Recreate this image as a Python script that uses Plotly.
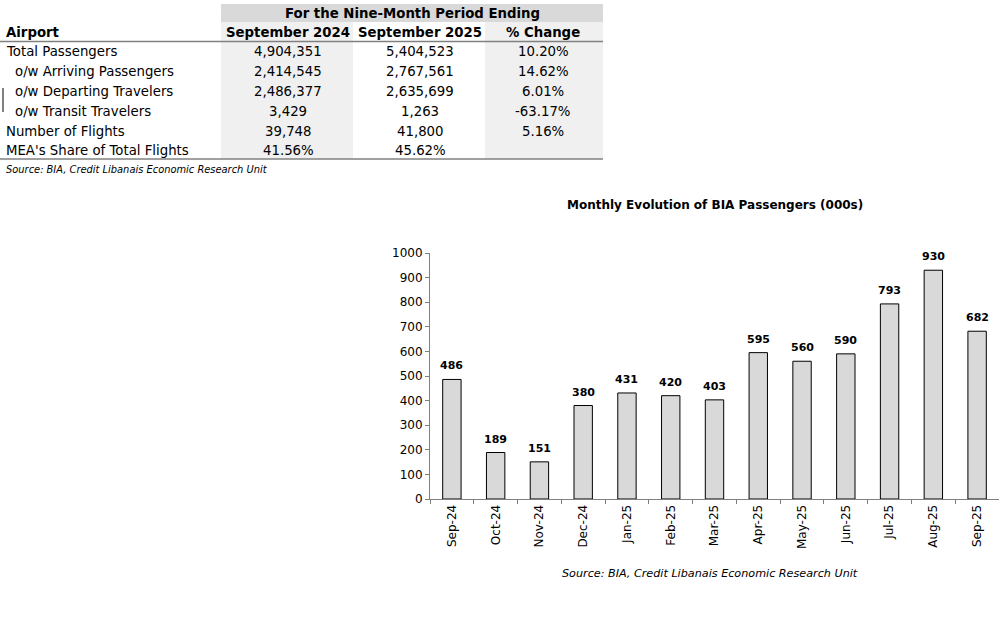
import plotly.graph_objects as go

# ---- Data ----
months = ["Sep-24", "Oct-24", "Nov-24", "Dec-24", "Jan-25", "Feb-25", "Mar-25",
          "Apr-25", "May-25", "Jun-25", "Jul-25", "Aug-25", "Sep-25"]
passengers = [486, 189, 151, 380, 431, 420, 403, 595, 560, 590, 793, 930, 682]

row_labels = ["Total Passengers", "  o/w Arriving Passengers", "  o/w Departing Travelers",
              "  o/w Transit Travelers", "Number of Flights", "MEA's Share of Total Flights"]
col_2024 = ["4,904,351", "2,414,545", "2,486,377", "3,429", "39,748", "41.56%"]
col_2025 = ["5,404,523", "2,767,561", "2,635,699", "1,263", "41,800", "45.62%"]
col_change = ["10.20%", "14.62%", "6.01%", "-63.17%", "5.16%", ""]
header_top = "For the Nine-Month Period Ending"
header_cols = ["Airport", "September 2024", "September 2025", "% Change"]
source_text = "Source: BIA, Credit Libanais Economic Research Unit"
chart_title = "Monthly Evolution of BIA Passengers (000s)"

W, H = 999, 625
L, R, T, B = 430, 0, 253, 126
PW = W - L - R
PH = H - T - B

def px(x):
    return (x - L) / PW

def py(y):
    return (H - B - y) / PH

FONT = "DejaVu Sans"

fig = go.Figure()
fig.add_trace(go.Bar(
    x=months, y=passengers,
    marker=dict(color="#d9d9d9", line=dict(color="#000000", width=1)),
    width=0.42, hoverinfo="skip"
))

shapes = []
annotations = []

# ---- Table backgrounds ----
shapes.append(dict(type="rect", xref="paper", yref="paper", x0=px(221), x1=px(603), y0=py(22), y1=py(4),
                   fillcolor="#d9d9d9", line=dict(width=0), layer="below"))
shapes.append(dict(type="rect", xref="paper", yref="paper", x0=px(221), x1=px(353), y0=py(159), y1=py(22),
                   fillcolor="#f0f0f0", line=dict(width=0), layer="below"))
shapes.append(dict(type="rect", xref="paper", yref="paper", x0=px(485), x1=px(603), y0=py(159), y1=py(22),
                   fillcolor="#f0f0f0", line=dict(width=0), layer="below"))
for yl in (41.5, 159):
    shapes.append(dict(type="line", xref="paper", yref="paper", x0=px(0), x1=px(603), y0=py(yl), y1=py(yl),
                       line=dict(color="#808080", width=1.5)))
# small vertical mark at the left
shapes.append(dict(type="line", xref="paper", yref="paper", x0=px(3), x1=px(3), y0=py(88), y1=py(112),
                   line=dict(color="#000000", width=1)))

def txt(x, y, s, xanchor="center", size=13.3, bold=False, italic=False, color="#000000"):
    annotations.append(dict(
        xref="paper", yref="paper", x=px(x), y=py(y), text=(f"<b>{s}</b>" if bold else s),
        showarrow=False, xanchor=xanchor, yanchor="middle",
        font=dict(family=FONT, size=size, color=color, style="italic" if italic else "normal")))

txt(412, 13, header_top, bold=True)
txt(4, 32, header_cols[0], xanchor="left", bold=True)
txt(288, 32, header_cols[1], bold=True)
txt(420, 32, header_cols[2], bold=True)
txt(543, 32, header_cols[3], bold=True)

row_y = [52, 71.5, 91.5, 111, 131, 150.5]
for i, yy in enumerate(row_y):
    lab = row_labels[i]
    indent = 13 if lab.startswith("  ") else 4
    txt(indent, yy, lab.strip(), xanchor="left")
    txt(288, yy, col_2024[i])
    txt(420, yy, col_2025[i])
    if col_change[i]:
        txt(543, yy, col_change[i])

txt(4, 169, source_text, xanchor="left", size=9.9, italic=True)

# ---- Chart text ----
txt(715, 205, chart_title, bold=True, size=12)
txt(710, 573, source_text, size=11.2, italic=True)

# Bar value labels
for m, v in zip(months, passengers):
    annotations.append(dict(x=m, y=v, xref="x", yref="y", text=f"<b>{v}</b>", showarrow=False,
                            yanchor="bottom", yshift=5,
                            font=dict(family=FONT, size=11, color="#000000")))

fig.update_layout(
    width=W, height=H,
    margin=dict(l=L, r=R, t=T, b=B),
    paper_bgcolor="white", plot_bgcolor="white",
    showlegend=False,
    shapes=shapes, annotations=annotations,
)
fig.update_yaxes(range=[0, 1000], dtick=100, showgrid=False, zeroline=False,
                 showline=True, linecolor="#808080", linewidth=1,
                 ticks="outside", ticklen=4, tickcolor="#808080",
                 tickfont=dict(family=FONT, size=12, color="#000000"))
fig.update_xaxes(showgrid=False, showline=True, linecolor="#808080", linewidth=1,
                 ticks="outside", ticklen=4, tickcolor="#808080", tickson="boundaries",
                 tickangle=-90, range=[-0.5, 12.5],
                 tickfont=dict(family=FONT, size=12, color="#000000"))

fig.write_html("out.html", config={"displayModeBar": False},
               post_script="document.body.style.margin='0';document.body.style.overflow='hidden';")
